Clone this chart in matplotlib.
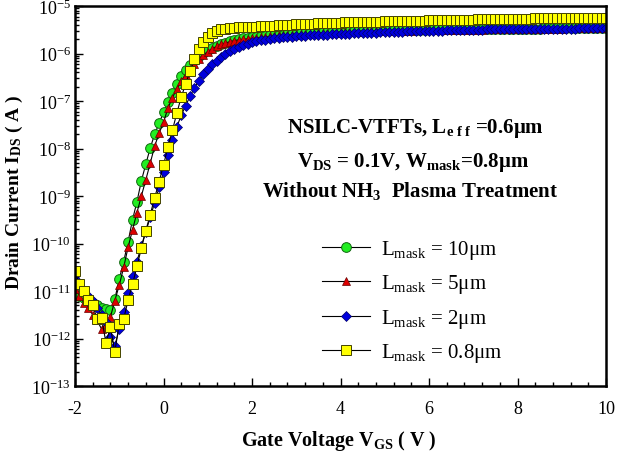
import numpy as np
import matplotlib
matplotlib.use('Agg')
import matplotlib.pyplot as plt
from matplotlib.ticker import LogLocator, MultipleLocator, LogFormatterMathtext, NullFormatter

plt.rcParams['font.family'] = ['Liberation Serif', 'DejaVu Serif']
plt.rcParams['mathtext.fontset'] = 'custom'
plt.rcParams['mathtext.rm'] = 'Liberation Serif'
plt.rcParams['mathtext.bf'] = 'Liberation Serif:bold'
plt.rcParams['mathtext.it'] = 'Liberation Serif:italic'
plt.rcParams['axes.unicode_minus'] = False

# Gate voltage sweep (V), 0.1 V step
vgs = np.round(np.linspace(-2.0, 10.0, 121), 1)

# log10 of drain current (A)
log_id_10um = [
    -10.92, -11.10, -11.15, -11.22, -11.25, -11.30, -11.35, -11.38, -11.40, -11.17,
    -10.75, -10.38, -9.96, -9.50, -9.12, -8.68, -8.33, -7.99, -7.70, -7.47,
    -7.24, -7.03, -6.83, -6.64, -6.48, -6.35, -6.24, -6.14, -6.06, -5.99,
    -5.93, -5.88, -5.84, -5.80, -5.77, -5.74, -5.72, -5.70, -5.68, -5.67,
    -5.66, -5.65, -5.64, -5.63, -5.62, -5.61, -5.60, -5.60, -5.59, -5.58,
    -5.58, -5.57, -5.57, -5.56, -5.56, -5.55, -5.55, -5.55, -5.54, -5.54,
    -5.54, -5.53, -5.53, -5.53, -5.53, -5.52, -5.52, -5.52, -5.52, -5.51,
    -5.51, -5.51, -5.51, -5.51, -5.50, -5.50, -5.50, -5.50, -5.50, -5.50,
    -5.49, -5.49, -5.49, -5.49, -5.49, -5.49, -5.49, -5.49, -5.49, -5.49,
    -5.49, -5.48, -5.48, -5.48, -5.48, -5.48, -5.48, -5.48, -5.48, -5.48,
    -5.48, -5.48, -5.48, -5.48, -5.48, -5.48, -5.47, -5.47, -5.47, -5.47,
    -5.47, -5.47, -5.47, -5.47, -5.47, -5.47, -5.47, -5.47, -5.47, -5.47,
    -5.47,
]
log_id_5um = [
    -10.95, -11.10, -11.25, -11.35, -11.50, -11.62, -11.80, -11.70, -11.55, -11.20,
    -10.88, -10.50, -10.08, -9.71, -9.35, -9.00, -8.66, -8.31, -7.95, -7.68,
    -7.45, -7.15, -6.93, -6.75, -6.58, -6.45, -6.33, -6.22, -6.12, -6.03,
    -5.96, -5.90, -5.85, -5.81, -5.78, -5.75, -5.73, -5.71, -5.70, -5.69,
    -5.68, -5.67, -5.66, -5.65, -5.64, -5.63, -5.62, -5.62, -5.61, -5.60,
    -5.60, -5.59, -5.59, -5.58, -5.58, -5.57, -5.57, -5.56, -5.56, -5.56,
    -5.55, -5.55, -5.55, -5.54, -5.54, -5.54, -5.53, -5.53, -5.53, -5.53,
    -5.52, -5.52, -5.52, -5.52, -5.52, -5.52, -5.52, -5.51, -5.51, -5.51,
    -5.51, -5.51, -5.51, -5.51, -5.51, -5.50, -5.50, -5.50, -5.50, -5.50,
    -5.50, -5.50, -5.50, -5.49, -5.49, -5.49, -5.49, -5.49, -5.49, -5.49,
    -5.49, -5.48, -5.48, -5.48, -5.48, -5.48, -5.48, -5.48, -5.48, -5.48,
    -5.48, -5.47, -5.47, -5.47, -5.47, -5.47, -5.47, -5.47, -5.47, -5.47,
    -5.47,
]
log_id_2um = [
    -10.75, -10.88, -11.00, -11.10, -11.22, -11.35, -11.50, -11.65, -11.97, -12.15,
    -11.80, -11.45, -11.05, -10.69, -10.38, -10.05, -9.75, -9.45, -9.14, -8.82,
    -8.50, -8.14, -7.82, -7.55, -7.30, -7.10, -6.90, -6.72, -6.57, -6.44,
    -6.33, -6.23, -6.15, -6.07, -6.00, -5.95, -5.90, -5.86, -5.82, -5.79,
    -5.76, -5.74, -5.72, -5.71, -5.69, -5.68, -5.67, -5.66, -5.65, -5.65,
    -5.64, -5.63, -5.63, -5.62, -5.61, -5.61, -5.60, -5.60, -5.59, -5.59,
    -5.59, -5.58, -5.58, -5.57, -5.57, -5.57, -5.56, -5.56, -5.56, -5.55,
    -5.55, -5.55, -5.54, -5.54, -5.54, -5.53, -5.53, -5.53, -5.52, -5.52,
    -5.52, -5.52, -5.52, -5.52, -5.51, -5.51, -5.51, -5.51, -5.50, -5.50,
    -5.50, -5.50, -5.50, -5.49, -5.49, -5.49, -5.49, -5.49, -5.49, -5.49,
    -5.48, -5.48, -5.48, -5.48, -5.48, -5.48, -5.48, -5.48, -5.48, -5.48,
    -5.48, -5.48, -5.48, -5.48, -5.47, -5.47, -5.47, -5.47, -5.47, -5.47,
    -5.47,
]
log_id_08um = [
    -10.58, -10.86, -11.00, -11.19, -11.30, -11.59, -11.57, -12.09, -11.76, -12.28,
    -11.69, -11.59, -11.19, -10.86, -10.48, -10.10, -9.73, -9.39, -9.04, -8.70,
    -8.35, -7.97, -7.62, -7.26, -6.92, -6.64, -6.37, -6.12, -5.90, -5.76,
    -5.65, -5.57, -5.52, -5.49, -5.475, -5.465, -5.457, -5.450, -5.445, -5.440,
    -5.436, -5.432, -5.428, -5.423, -5.418, -5.413, -5.408, -5.403, -5.398, -5.393,
    -5.388, -5.384, -5.380, -5.376, -5.372, -5.368, -5.364, -5.360, -5.357, -5.353,
    -5.350, -5.347, -5.345, -5.342, -5.340, -5.337, -5.335, -5.332, -5.330, -5.327,
    -5.325, -5.323, -5.320, -5.318, -5.316, -5.314, -5.312, -5.310, -5.308, -5.306,
    -5.304, -5.302, -5.300, -5.298, -5.296, -5.294, -5.292, -5.290, -5.288, -5.286,
    -5.285, -5.283, -5.281, -5.280, -5.278, -5.276, -5.275, -5.273, -5.272, -5.270,
    -5.269, -5.267, -5.266, -5.264, -5.263, -5.262, -5.260, -5.259, -5.258, -5.256,
    -5.255, -5.254, -5.253, -5.252, -5.251, -5.250, -5.249, -5.248, -5.247, -5.246,
    -5.245,
]

series_labels = [r"L$_\mathregular{mask}$ = 10μm", r"L$_\mathregular{mask}$ = 5μm",
                 r"L$_\mathregular{mask}$ = 2μm", r"L$_\mathregular{mask}$ = 0.8μm"]
series_data = [log_id_10um, log_id_5um, log_id_2um, log_id_08um]

styles = [
    dict(marker='o', markersize=7, markerfacecolor='#22ee22', markeredgecolor='#116611', markeredgewidth=0.7),
    dict(marker='^', markersize=5.5, markerfacecolor='#dd0000', markeredgecolor='#660000', markeredgewidth=0.5),
    dict(marker='D', markersize=4.8, markerfacecolor='#0000dd', markeredgecolor='#000066', markeredgewidth=0.5),
    dict(marker='s', markersize=6.8, markerfacecolor='#ffff00', markeredgecolor='#444400', markeredgewidth=0.7),
]

fig = plt.figure(figsize=(6.19, 4.64), dpi=100)
ax = fig.add_axes([75/619, 1-387/464, (606-75)/619, (387-7)/464])

for data, lab, st in zip(series_data, series_labels, styles):
    ax.plot(vgs, 10.0**np.array(data), color='black', linewidth=0.8, label=lab, **st)

ax.set_yscale('log')
ax.set_xlim(-2, 10)
ax.set_ylim(1e-13, 1e-5)

ax.xaxis.set_major_locator(MultipleLocator(2))
ax.xaxis.set_minor_locator(MultipleLocator(0.4))
ax.yaxis.set_major_locator(LogLocator(base=10, numticks=20))
ax.yaxis.set_minor_locator(LogLocator(base=10, subs=np.arange(2, 10), numticks=100))
ax.yaxis.set_major_formatter(LogFormatterMathtext())
ax.yaxis.set_minor_formatter(NullFormatter())

ax.tick_params(which='both', direction='in', top=False, right=False, width=1.0)
ax.tick_params(which='major', length=6)
ax.tick_params(which='minor', length=3)
ax.tick_params(axis='x', labelsize=13, pad=10)
ax.tick_params(axis='y', labelsize=13, pad=3)
for s in ax.spines.values():
    s.set_linewidth(1.8)

leg = ax.legend(loc='upper left', bbox_to_anchor=(322/619, 1-239/464),
                bbox_transform=fig.transFigure, frameon=False, numpoints=1,
                fontsize=15, handlelength=2.3, handletextpad=0.55,
                labelspacing=0.55, borderpad=0, borderaxespad=0)

fig.text(415/619, 1-128/464, r"NSILC-VTFTs, L$_{\mathbf{e\ f\ f}}$ =0.6μm",
         ha='center', va='center', fontsize=15, fontweight='bold')
fig.text(413/619, 1-162/464, r"V$_\mathbf{DS}$ = 0.1V, W$_\mathbf{mask}$=0.8μm",
         ha='center', va='center', fontsize=15, fontweight='bold')
fig.text(410/619, 1-191/464, r"Without NH$_\mathbf{3}$  Plasma Treatment",
         ha='center', va='center', fontsize=15, fontweight='bold')

fig.text(339/619, 1-441/464, r"Gate Voltage V$_\mathbf{GS}$ ( V )",
         ha='center', va='center', fontsize=14.5, fontweight='bold')
fig.text(14/619, 1-192/464, r"Drain Current I$_\mathbf{DS}$ ( A )",
         ha='center', va='center', fontsize=14, fontweight='bold', rotation=90)

fig.savefig('out.png', dpi=100)
